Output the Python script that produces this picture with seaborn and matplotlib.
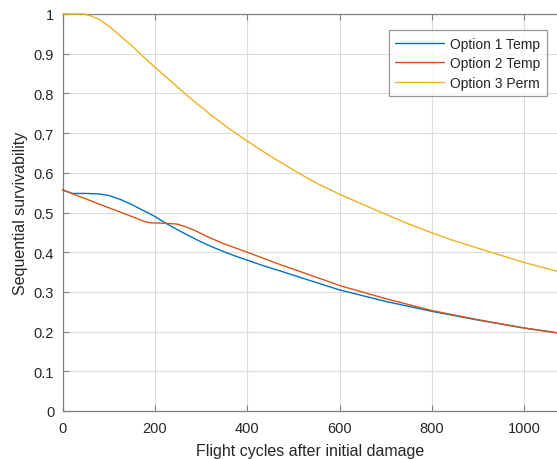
import matplotlib
matplotlib.use("Agg")
import matplotlib.pyplot as plt
import seaborn as sns
import pandas as pd

series_names = ["Option 1 Temp", "Option 2 Temp", "Option 3 Perm"]

opt1_x = [0, 21, 50, 77, 100, 125, 150, 175, 200, 225, 250, 276, 300, 325, 350, 375, 400, 435, 471, 527, 600, 700, 800, 900, 1000, 1071]
opt1_y = [0.557, 0.548, 0.548, 0.547, 0.543, 0.533, 0.520, 0.505, 0.490, 0.472, 0.456, 0.440, 0.426, 0.413, 0.401, 0.390, 0.380, 0.366, 0.353, 0.332, 0.305, 0.276, 0.251, 0.229, 0.209, 0.197]

opt2_x = [0, 100, 150, 178, 190, 220, 247, 265, 290, 312, 350, 400, 471, 562, 600, 700, 800, 900, 1000, 1071]
opt2_y = [0.557, 0.512, 0.490, 0.477, 0.474, 0.473, 0.471, 0.465, 0.453, 0.440, 0.421, 0.400, 0.369, 0.332, 0.316, 0.283, 0.253, 0.230, 0.209, 0.197]

opt3_x = [0, 25, 45, 60, 80, 103, 125, 150, 168, 200, 250, 284, 320, 360, 400, 450, 509, 550, 600, 675, 750, 800, 840, 900, 950, 1000, 1071]
opt3_y = [1.000, 1.000, 1.000, 0.996, 0.986, 0.967, 0.945, 0.920, 0.900, 0.866, 0.815, 0.781, 0.747, 0.712, 0.680, 0.642, 0.601, 0.574, 0.546, 0.508, 0.471, 0.449, 0.432, 0.410, 0.392, 0.374, 0.352]

x_ticks = [0, 200, 400, 600, 800, 1000]
y_ticks = [0, 0.1, 0.2, 0.3, 0.4, 0.5, 0.6, 0.7, 0.8, 0.9, 1]
y_tick_labels = ["0", "0.1", "0.2", "0.3", "0.4", "0.5", "0.6", "0.7", "0.8", "0.9", "1"]

frames = []
for name, xs, ys in zip(series_names, [opt1_x, opt2_x, opt3_x], [opt1_y, opt2_y, opt3_y]):
    frames.append(pd.DataFrame({"cycles": xs, "surv": ys, "series": name}))
df = pd.concat(frames, ignore_index=True)

sns.set_theme(style="white")
plt.rcParams["font.family"] = ["Liberation Sans", "DejaVu Sans"]

fig = plt.figure(figsize=(5.57, 4.60), dpi=100)
ax = fig.add_axes([62.5 / 557, 48 / 460, 1 - 62.5 / 557, 397 / 460])

palette = {"Option 1 Temp": "#0072BD", "Option 2 Temp": "#D95319", "Option 3 Perm": "#EDB120"}
sns.lineplot(data=df, x="cycles", y="surv", hue="series", palette=palette,
             linewidth=1.0, ax=ax, sort=True, estimator=None)
for ln in ax.get_lines():
    ln.set_zorder(3)
    ln.set_clip_on(False)

ax.set_xlim(0, 1071)
ax.set_ylim(0, 1)
ax.set_xticks(x_ticks)
ax.set_xticklabels([str(t) for t in x_ticks])
ax.set_yticks(y_ticks)
ax.set_yticklabels(y_tick_labels)
ax.grid(True, color="#dcdcdc", linewidth=0.8)
ax.set_axisbelow(True)

for side in ["left", "bottom", "top"]:
    ax.spines[side].set_visible(True)
    ax.spines[side].set_color("#7f7f7f")
    ax.spines[side].set_linewidth(0.9)
    ax.spines[side].set_zorder(2.5)
ax.spines["right"].set_visible(False)

ax.tick_params(axis="both", direction="in", length=4, width=0.8, color="#7f7f7f",
               labelsize=10.5, labelcolor="#262626", top=True, bottom=True, left=True)
ax.tick_params(axis="x", pad=7)
ax.tick_params(axis="y", pad=6)

ax.set_xlabel("Flight cycles after initial damage", fontsize=11.5, color="#262626", labelpad=6)
ax.set_ylabel("Sequential survivability", fontsize=11.5, color="#262626", labelpad=4)

leg = ax.legend(loc="upper right", bbox_to_anchor=(0.979, 0.959), fontsize=10,
                frameon=True, fancybox=False, handlelength=3.5, borderpad=0.45,
                labelspacing=0.42, handletextpad=0.45, borderaxespad=0)
leg.get_frame().set_edgecolor("#7f7f7f")
leg.get_frame().set_linewidth(0.9)
for t in leg.get_texts():
    t.set_color("#262626")

fig.savefig("out.png", dpi=100)
